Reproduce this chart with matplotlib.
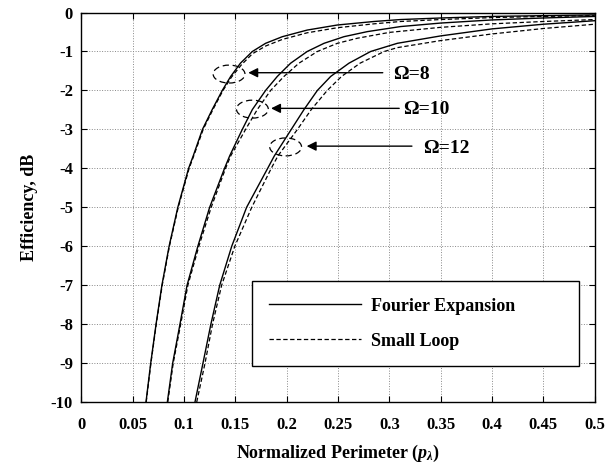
import matplotlib
matplotlib.use("Agg")
import matplotlib.pyplot as plt
from matplotlib.patches import Ellipse

plt.rcParams['font.family'] = ['Liberation Serif', 'DejaVu Serif']
plt.rcParams['font.weight'] = 'bold'
plt.rcParams['axes.unicode_minus'] = False
plt.rcParams['mathtext.fontset'] = 'custom'
plt.rcParams['mathtext.rm'] = 'Liberation Serif:bold'
plt.rcParams['mathtext.it'] = 'Liberation Serif:bold:italic'

# Fourier expansion (solid) and small loop (dashed) efficiency curves, dB
fe8_x = [0.063, 0.0676, 0.0728, 0.0785, 0.0855, 0.094, 0.1045, 0.109, 0.118, 0.1275,
         0.1373, 0.1455, 0.155, 0.1666, 0.1795, 0.1958, 0.220, 0.2494, 0.285, 0.311,
         0.35, 0.4, 0.45, 0.5]
fe8_y = [-10, -9, -8, -7, -6, -5, -4, -3.68, -3.0, -2.49,
         -2.0, -1.64, -1.30, -1.0, -0.79, -0.62, -0.45, -0.32, -0.23, -0.18,
         -0.14, -0.1, -0.08, -0.06]
sl8_x = [0.0632, 0.0678, 0.073, 0.0788, 0.0858, 0.0944, 0.105, 0.1095, 0.1187, 0.1282,
         0.138, 0.1462, 0.156, 0.1666, 0.1795, 0.1958, 0.220, 0.2494, 0.285, 0.311,
         0.35, 0.4, 0.45, 0.5]
sl8_y = [-10, -9, -8, -7, -6, -5, -4, -3.68, -3.0, -2.49,
         -2.0, -1.66, -1.34, -1.06, -0.86, -0.69, -0.52, -0.39, -0.29, -0.23,
         -0.18, -0.13, -0.1, -0.08]

fe10_x = [0.0838, 0.089, 0.0961, 0.103, 0.1135, 0.125, 0.1395, 0.1445, 0.1568, 0.1666,
          0.1795, 0.1909, 0.2039, 0.220, 0.2364, 0.2558, 0.2786, 0.311, 0.35, 0.4,
          0.45, 0.5]
fe10_y = [-10, -9, -8, -7, -6, -5, -4, -3.68, -3.0, -2.49,
          -2.0, -1.64, -1.30, -1.0, -0.79, -0.62, -0.49, -0.36, -0.27, -0.19,
          -0.14, -0.1]
sl10_x = [0.0842, 0.0895, 0.0968, 0.1038, 0.1145, 0.1265, 0.1405, 0.1455, 0.160, 0.1714,
          0.1844, 0.1974, 0.212, 0.2299, 0.2494, 0.2688, 0.3, 0.35, 0.4, 0.45,
          0.5]
sl10_y = [-10, -9, -8, -7, -6, -5, -4, -3.68, -3.0, -2.49,
          -2.0, -1.64, -1.30, -1.0, -0.79, -0.66, -0.51, -0.38, -0.29, -0.23,
          -0.18]

fe12_x = [0.1107, 0.1185, 0.1262, 0.1348, 0.1465, 0.161, 0.1815, 0.188, 0.2045, 0.2169,
          0.2299, 0.2429, 0.2607, 0.2818, 0.3078, 0.35, 0.4, 0.45, 0.5]
fe12_y = [-10, -9, -8, -7, -6, -5, -4, -3.68, -3.0, -2.49,
          -2.0, -1.64, -1.30, -1.0, -0.79, -0.6, -0.42, -0.3, -0.21]
sl12_x = [0.1124, 0.1205, 0.1278, 0.1367, 0.1495, 0.166, 0.185, 0.1915, 0.2105, 0.224,
          0.2395, 0.2535, 0.2715, 0.295, 0.308, 0.35, 0.4, 0.45, 0.5]
sl12_y = [-10, -9, -8, -7, -6, -5, -4, -3.68, -3.0, -2.49,
          -2.0, -1.64, -1.30, -1.0, -0.9, -0.72, -0.55, -0.41, -0.3]

x_ticks = [0, 0.05, 0.1, 0.15, 0.2, 0.25, 0.3, 0.35, 0.4, 0.45, 0.5]
x_tick_labels = ['0', '0.05', '0.1', '0.15', '0.2', '0.25', '0.3', '0.35', '0.4', '0.45', '0.5']
y_ticks = [0, -1, -2, -3, -4, -5, -6, -7, -8, -9, -10]

# callouts: ellipse centre, arrow tip/tail, label
omega_labels = ['Ω=8', 'Ω=10', 'Ω=12']
ellipse_x = [0.1439, 0.1666, 0.199]
ellipse_y = [-1.58, -2.48, -3.45]
arrow_tip_x = [0.1626, 0.1848, 0.2195]
arrow_tail_x = [0.2936, 0.3096, 0.322]
arrow_y = [-1.545, -2.46, -3.43]
label_x = [0.3036, 0.3133, 0.333]
label_y = [-1.6, -2.5, -3.48]

fig = plt.figure(figsize=(6.1, 4.73), dpi=100)
ax = fig.add_axes([0.1333, 0.150, 0.8416, 0.8235])

solid = dict(color='black', lw=1.0)
dashed = dict(color='black', lw=0.9, linestyle=(0, (3.5, 2.0)))
ax.plot(fe8_x, fe8_y, label='Fourier Expansion', **solid)
ax.plot(sl8_x, sl8_y, label='Small Loop', **dashed)
ax.plot(fe10_x, fe10_y, **solid)
ax.plot(sl10_x, sl10_y, **dashed)
ax.plot(fe12_x, fe12_y, **solid)
ax.plot(sl12_x, sl12_y, **dashed)

for i in range(3):
    ax.add_patch(Ellipse((ellipse_x[i], ellipse_y[i]), 0.031, 0.46, fill=False,
                         edgecolor='black', lw=0.9, linestyle=(0, (5, 3))))
    ax.annotate('', xy=(arrow_tip_x[i], arrow_y[i]), xytext=(arrow_tail_x[i], arrow_y[i]),
                arrowprops=dict(arrowstyle='-|>', color='black', lw=1.0,
                                mutation_scale=14, shrinkA=0, shrinkB=0))
    ax.text(label_x[i], label_y[i], omega_labels[i], fontsize=14, fontweight='bold',
            ha='left', va='center')

ax.set_xlim(0, 0.5)
ax.set_ylim(-10, 0)
ax.set_xticks(x_ticks)
ax.set_xticklabels(x_tick_labels)
ax.set_yticks(y_ticks)
ax.tick_params(direction='in', top=True, right=True, labelsize=12, length=4, pad=6)
ax.tick_params(axis='x', pad=11)
ax.grid(True, color='#888888', linestyle=':', lw=0.7)
for sp in ax.spines.values():
    sp.set_linewidth(1.0)

ax.set_xlabel(r'Normalized Perimeter ($p_{\lambda}$)', fontsize=13, fontweight='bold', labelpad=7)
ax.set_ylabel('Efficiency, dB', fontsize=13, fontweight='bold', labelpad=9)

leg = ax.legend(loc='lower left', bbox_to_anchor=(0.333, 0.093, 0.637, 0.22), mode='expand',
                borderaxespad=0, fontsize=13, handlelength=5.1, handletextpad=0.55,
                labelspacing=1.0, borderpad=0.9, fancybox=False, framealpha=1,
                edgecolor='black')
leg.get_frame().set_linewidth(1.0)

fig.savefig('out.png', dpi=100)
